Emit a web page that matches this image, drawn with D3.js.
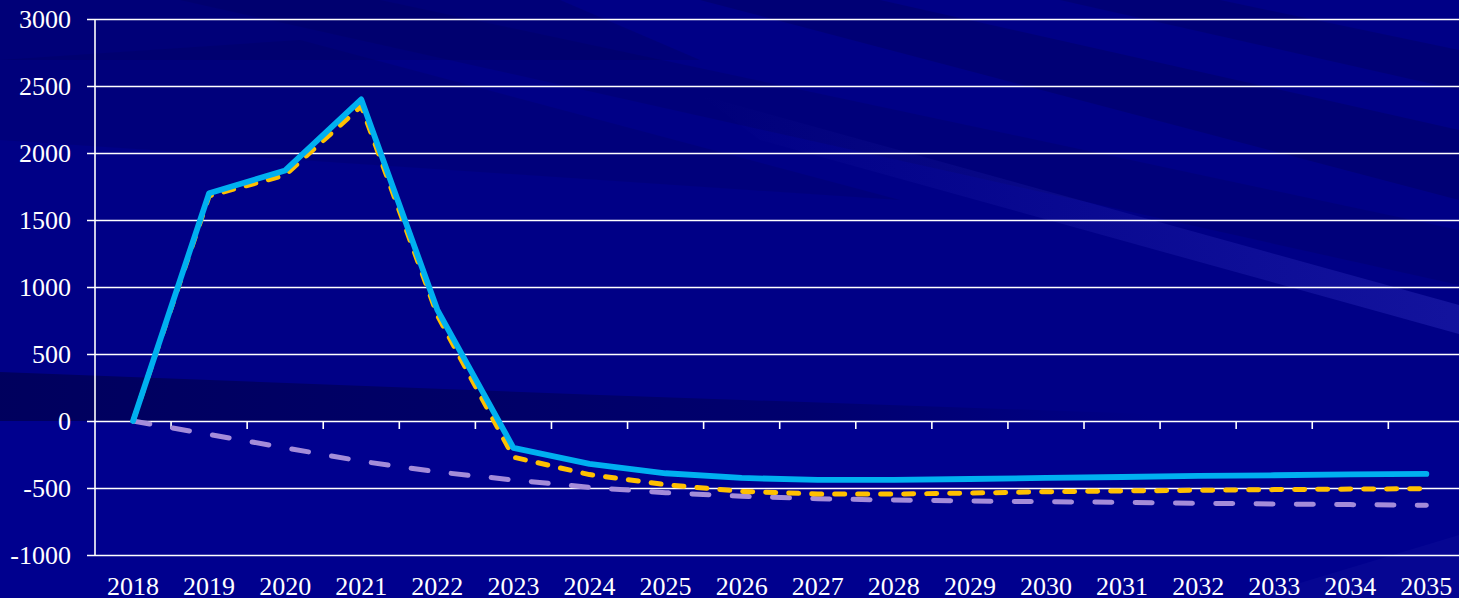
<!DOCTYPE html>
<html>
<head>
<meta charset="utf-8">
<script src="https://cdn.jsdelivr.net/npm/d3@7"></script>
<style>
  html, body { margin: 0; padding: 0; background: #00008a; overflow: hidden; }
  svg { display: block; }
</style>
</head>
<body>
<div id="chart"></div>
<script>
// Yearly values for the three scenarios
const years = ["2018","2019","2020","2021","2022","2023","2024","2025","2026","2027","2028","2029","2030","2031","2032","2033","2034","2035"];
const seriesBlue   = [0, 1700, 1870, 2400, 830, -200, -320, -390, -425, -440, -440, -433, -425, -418, -410, -405, -398, -395];
const seriesYellow = [0, 1680, 1835, 2350, 790, -270, -400, -475, -525, -545, -545, -538, -528, -522, -517, -512, -508, -505];
const seriesPurple = [0, -100, -200, -300, -380, -440, -495, -535, -562, -580, -590, -597, -602, -607, -614, -619, -624, -629];
const yTicks = [-1000, -500, 0, 500, 1000, 1500, 2000, 2500, 3000];

const W = 1459, H = 598;
const margin = { left: 95, top: 19 };
const plotW = 1369.4, plotH = 536;

const svg = d3.select("#chart").append("svg")
  .attr("width", W).attr("height", H);

// ---- backdrop: navy with diagonal light/dark streaks ----
const defs = svg.append("defs");
const lg = defs.append("linearGradient").attr("id", "lightStreak")
  .attr("gradientUnits", "userSpaceOnUse")
  .attr("x1", 700).attr("y1", 0).attr("x2", 1459).attr("y2", 0);
lg.append("stop").attr("offset", 0).attr("stop-color", "#3030c0").attr("stop-opacity", 0);
lg.append("stop").attr("offset", 1).attr("stop-color", "#3030c0").attr("stop-opacity", 0.4);

const dg = defs.append("linearGradient").attr("id", "darkBand")
  .attr("gradientUnits", "userSpaceOnUse")
  .attr("x1", 0).attr("y1", 0).attr("x2", 1150).attr("y2", 0);
dg.append("stop").attr("offset", 0).attr("stop-color", "#000050").attr("stop-opacity", 0.75);
dg.append("stop").attr("offset", 0.7).attr("stop-color", "#000050").attr("stop-opacity", 0.45);
dg.append("stop").attr("offset", 1).attr("stop-color", "#000050").attr("stop-opacity", 0);

const bg = svg.append("g").attr("class", "backdrop");
bg.append("rect").attr("width", W).attr("height", H).attr("fill", "#00008e");
bg.append("rect").attr("width", W).attr("height", 421).attr("fill", "#000086");

const darkPolys = [
  { pts: [[0,0],[560,0],[700,60],[0,60]], op: 0.25 },
  { pts: [[0,60],[300,40],[900,200],[0,140]], op: 0.18 },
  { pts: [[180,0],[380,0],[1459,230],[1459,285]], op: 0.22 },
  { pts: [[700,0],[880,0],[1459,130],[1459,200]], op: 0.3 },
  { pts: [[1060,0],[1220,0],[1459,50],[1459,90]], op: 0.28 }
];
darkPolys.forEach(p => {
  bg.append("polygon")
    .attr("points", p.pts.map(d => d.join(",")).join(" "))
    .attr("fill", "#000050").attr("opacity", p.op);
});
bg.append("polygon")
  .attr("points", "700,95 1459,305 1459,334 760,140")
  .attr("fill", "url(#lightStreak)");
bg.append("polygon")
  .attr("points", "0,372 600,395 1150,414 1150,421 0,421")
  .attr("fill", "url(#darkBand)");
bg.append("polygon")
  .attr("points", "1250,598 1459,535 1459,598")
  .attr("fill", "#2a2ab0").attr("opacity", 0.15);

// ---- scales ----
const x = d3.scaleBand().domain(years).range([margin.left, margin.left + plotW]).padding(0);
const y = d3.scaleLinear().domain([-1000, 3000]).range([margin.top + plotH, margin.top]);
const cx = d => x(d) + x.bandwidth() / 2;

const font = "'Liberation Serif', 'Times New Roman', serif";

// ---- horizontal gridlines with y axis ticks ----
const yAxis = d3.axisLeft(y).tickValues(yTicks)
  .tickSize(0).tickPadding(24).tickFormat(d => String(d));
const yg = svg.append("g").attr("transform", `translate(${margin.left},0)`).call(yAxis);
yg.select(".domain").remove();
yg.selectAll(".tick line").attr("stroke", "#ffffff").attr("stroke-width", 1.6)
  .attr("x1", -8).attr("x2", plotW + 10);
yg.selectAll(".tick text").attr("fill", "#ffffff")
  .style("font-family", font).style("font-size", "26px")
  .attr("dy", "0.34em");

// vertical axis line
svg.append("line")
  .attr("x1", margin.left).attr("x2", margin.left)
  .attr("y1", y(3000)).attr("y2", y(-1000))
  .attr("stroke", "#ffffff").attr("stroke-width", 1.6);

// ---- category axis crossing at zero, labels placed at the bottom ----
const boundaries = years.slice(1).map(d => x(d));
svg.append("g").selectAll("line").data(boundaries).join("line")
  .attr("x1", d => d).attr("x2", d => d)
  .attr("y1", y(0)).attr("y2", y(0) + 8)
  .attr("stroke", "#ffffff").attr("stroke-width", 1.6);

svg.append("g").selectAll("text").data(years).join("text")
  .attr("x", d => cx(d)).attr("y", 595)
  .attr("text-anchor", "middle").attr("fill", "#ffffff")
  .style("font-family", font).style("font-size", "26px")
  .text(d => d);

// ---- series lines ----
const line = d3.line().x((d, i) => cx(years[i])).y(d => y(d));

svg.append("path").datum(seriesPurple)
  .attr("d", line).attr("fill", "none")
  .attr("stroke", "#a48cd9").attr("stroke-width", 5)
  .attr("stroke-linecap", "round").attr("stroke-linejoin", "round")
  .attr("stroke-dasharray", "17,23.3");

svg.append("path").datum(seriesYellow)
  .attr("d", line).attr("fill", "none")
  .attr("stroke", "#ffc000").attr("stroke-width", 5)
  .attr("stroke-linecap", "round").attr("stroke-linejoin", "round")
  .attr("stroke-dasharray", "10,13");

svg.append("path").datum(seriesBlue)
  .attr("d", line).attr("fill", "none")
  .attr("stroke", "#00b0f0").attr("stroke-width", 5.8)
  .attr("stroke-linecap", "round").attr("stroke-linejoin", "round");
</script>
</body>
</html>
